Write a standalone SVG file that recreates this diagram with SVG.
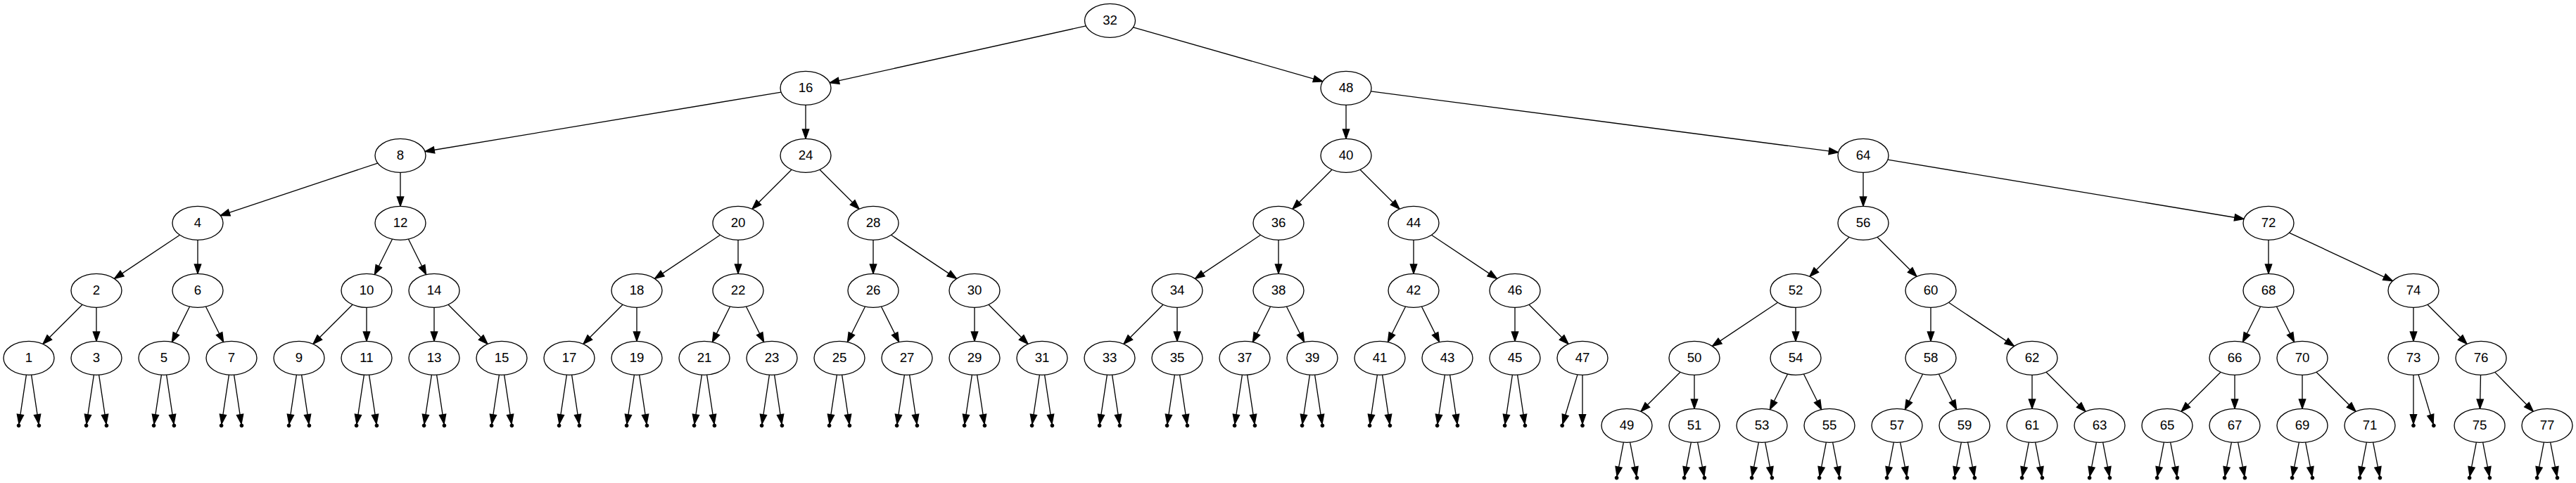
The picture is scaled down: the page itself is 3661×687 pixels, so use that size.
<svg xmlns="http://www.w3.org/2000/svg" xmlns:xlink="http://www.w3.org/1999/xlink" width="3661" height="687" viewBox="0 0 3661 687">
<style>
.node ellipse{fill:#fff;stroke:#000;stroke-width:1.33}
.node text{font-family:"Liberation Sans",Arial,sans-serif;font-size:18.67px;text-anchor:middle;fill:#000}
.e{stroke:#000;stroke-width:1.33;fill:none;marker-end:url(#arr)}
.pt{fill:#000;stroke:#000;stroke-width:1}
</style>
<defs>
<marker id="arr" markerUnits="userSpaceOnUse" viewBox="-2 -7 18 14" markerWidth="18" markerHeight="14" refX="13.33" refY="0" orient="auto" overflow="visible">
<path d="M0,-4.67 L13.33,0 L0,4.67 Z" fill="#000" stroke="#000" stroke-width="1.33"/>
</marker>
<g id="ne5"><line class="e" x1="-3.58" y1="23.88" x2="-14.04" y2="93.63"/><line class="e" x1="3.58" y1="23.88" x2="14.04" y2="93.63"/></g>
<g id="ne6"><line class="e" x1="-4.61" y1="23.8" x2="-13.94" y2="72.04"/><line class="e" x1="4.61" y1="23.8" x2="13.94" y2="72.04"/></g>
<g id="np5"><circle class="pt" cx="-14.4" cy="96" r="2.4"/><circle class="pt" cx="14.4" cy="96" r="2.4"/></g>
<g id="np6"><circle class="pt" cx="-14.4" cy="74.4" r="2.4"/><circle class="pt" cx="14.4" cy="74.4" r="2.4"/></g>
</defs>
<rect width="3661" height="687" fill="#fff"/>
<g id="edges">
<line class="e" x1="1543.34" y1="36.88" x2="1179.16" y2="117.72"/>
<line class="e" x1="1610.58" y1="38.77" x2="1879.92" y2="115.83"/>
<line class="e" x1="1110.07" y1="131.12" x2="603.93" y2="215.48"/>
<line class="e" x1="1145" y1="149.3" x2="1145" y2="197.3"/>
<line class="e" x1="1913" y1="149.3" x2="1913" y2="197.3"/>
<line class="e" x1="1948.33" y1="129.91" x2="2612.67" y2="216.69"/>
<line class="e" x1="536.8" y1="232.03" x2="313.2" y2="306.57"/>
<line class="e" x1="569" y1="245.3" x2="569" y2="293.3"/>
<line class="e" x1="1125.03" y1="241.27" x2="1068.97" y2="297.33"/>
<line class="e" x1="1164.97" y1="241.27" x2="1221.03" y2="297.33"/>
<line class="e" x1="1893.03" y1="241.27" x2="1836.97" y2="297.33"/>
<line class="e" x1="1932.97" y1="241.27" x2="1989.03" y2="297.33"/>
<line class="e" x1="2648" y1="245.3" x2="2648" y2="293.3"/>
<line class="e" x1="2682.93" y1="227.12" x2="3189.07" y2="311.48"/>
<line class="e" x1="255.54" y1="334.27" x2="162.46" y2="396.33"/>
<line class="e" x1="281" y1="341.3" x2="281" y2="389.3"/>
<line class="e" x1="557.62" y1="340.07" x2="532.38" y2="390.53"/>
<line class="e" x1="580.38" y1="340.07" x2="605.62" y2="390.53"/>
<line class="e" x1="1023.54" y1="334.27" x2="930.46" y2="396.33"/>
<line class="e" x1="1049" y1="341.3" x2="1049" y2="389.3"/>
<line class="e" x1="1241" y1="341.3" x2="1241" y2="389.3"/>
<line class="e" x1="1266.46" y1="334.27" x2="1359.54" y2="396.33"/>
<line class="e" x1="1791.54" y1="334.27" x2="1698.46" y2="396.33"/>
<line class="e" x1="1817" y1="341.3" x2="1817" y2="389.3"/>
<line class="e" x1="2009" y1="341.3" x2="2009" y2="389.3"/>
<line class="e" x1="2034.46" y1="334.27" x2="2127.54" y2="396.33"/>
<line class="e" x1="2628.03" y1="337.27" x2="2571.97" y2="393.33"/>
<line class="e" x1="2667.97" y1="337.27" x2="2724.03" y2="393.33"/>
<line class="e" x1="3224" y1="341.3" x2="3224" y2="389.3"/>
<line class="e" x1="3253.51" y1="331.05" x2="3400.49" y2="399.55"/>
<line class="e" x1="117.03" y1="433.27" x2="60.97" y2="489.33"/>
<line class="e" x1="137" y1="437.3" x2="137" y2="485.3"/>
<line class="e" x1="269.62" y1="436.07" x2="244.38" y2="486.53"/>
<line class="e" x1="292.38" y1="436.07" x2="317.62" y2="486.53"/>
<line class="e" x1="501.03" y1="433.27" x2="444.97" y2="489.33"/>
<line class="e" x1="521" y1="437.3" x2="521" y2="485.3"/>
<line class="e" x1="617" y1="437.3" x2="617" y2="485.3"/>
<line class="e" x1="636.97" y1="433.27" x2="693.03" y2="489.33"/>
<line class="e" x1="885.03" y1="433.27" x2="828.97" y2="489.33"/>
<line class="e" x1="905" y1="437.3" x2="905" y2="485.3"/>
<line class="e" x1="1037.62" y1="436.07" x2="1012.38" y2="486.53"/>
<line class="e" x1="1060.38" y1="436.07" x2="1085.62" y2="486.53"/>
<line class="e" x1="1229.62" y1="436.07" x2="1204.38" y2="486.53"/>
<line class="e" x1="1252.38" y1="436.07" x2="1277.62" y2="486.53"/>
<line class="e" x1="1385" y1="437.3" x2="1385" y2="485.3"/>
<line class="e" x1="1404.97" y1="433.27" x2="1461.03" y2="489.33"/>
<line class="e" x1="1653.03" y1="433.27" x2="1596.97" y2="489.33"/>
<line class="e" x1="1673" y1="437.3" x2="1673" y2="485.3"/>
<line class="e" x1="1805.62" y1="436.07" x2="1780.38" y2="486.53"/>
<line class="e" x1="1828.38" y1="436.07" x2="1853.62" y2="486.53"/>
<line class="e" x1="1997.62" y1="436.07" x2="1972.38" y2="486.53"/>
<line class="e" x1="2020.38" y1="436.07" x2="2045.62" y2="486.53"/>
<line class="e" x1="2153" y1="437.3" x2="2153" y2="485.3"/>
<line class="e" x1="2172.97" y1="433.27" x2="2229.03" y2="489.33"/>
<line class="e" x1="2526.54" y1="430.27" x2="2433.46" y2="492.33"/>
<line class="e" x1="2552" y1="437.3" x2="2552" y2="485.3"/>
<line class="e" x1="2744" y1="437.3" x2="2744" y2="485.3"/>
<line class="e" x1="2769.46" y1="430.27" x2="2862.54" y2="492.33"/>
<line class="e" x1="3212.62" y1="436.07" x2="3187.38" y2="486.53"/>
<line class="e" x1="3235.38" y1="436.07" x2="3260.62" y2="486.53"/>
<line class="e" x1="3430" y1="437.3" x2="3430" y2="485.3"/>
<line class="e" x1="3449.97" y1="433.27" x2="3506.03" y2="489.33"/>
<line class="e" x1="2388.03" y1="529.27" x2="2331.97" y2="585.33"/>
<line class="e" x1="2408" y1="533.3" x2="2408" y2="581.3"/>
<line class="e" x1="2540.62" y1="532.07" x2="2515.38" y2="582.53"/>
<line class="e" x1="2563.38" y1="532.07" x2="2588.62" y2="582.53"/>
<line class="e" x1="2732.62" y1="532.07" x2="2707.38" y2="582.53"/>
<line class="e" x1="2755.38" y1="532.07" x2="2780.62" y2="582.53"/>
<line class="e" x1="2888" y1="533.3" x2="2888" y2="581.3"/>
<line class="e" x1="2907.97" y1="529.27" x2="2964.03" y2="585.33"/>
<line class="e" x1="3156.03" y1="529.27" x2="3099.97" y2="585.33"/>
<line class="e" x1="3176" y1="533.3" x2="3176" y2="581.3"/>
<line class="e" x1="3272" y1="533.3" x2="3272" y2="581.3"/>
<line class="e" x1="3291.97" y1="529.27" x2="3348.03" y2="585.33"/>
<line class="e" x1="3525.5" y1="533.3" x2="3524.5" y2="581.3"/>
<line class="e" x1="3545.68" y1="529.4" x2="3600.32" y2="585.2"/>
<use href="#ne5" transform="translate(41,509.3)"/>
<use href="#ne5" transform="translate(137,509.3)"/>
<use href="#ne5" transform="translate(233,509.3)"/>
<use href="#ne5" transform="translate(329,509.3)"/>
<use href="#ne5" transform="translate(425,509.3)"/>
<use href="#ne5" transform="translate(521,509.3)"/>
<use href="#ne5" transform="translate(617,509.3)"/>
<use href="#ne5" transform="translate(713,509.3)"/>
<use href="#ne5" transform="translate(809,509.3)"/>
<use href="#ne5" transform="translate(905,509.3)"/>
<use href="#ne5" transform="translate(1001,509.3)"/>
<use href="#ne5" transform="translate(1097,509.3)"/>
<use href="#ne5" transform="translate(1193,509.3)"/>
<use href="#ne5" transform="translate(1289,509.3)"/>
<use href="#ne5" transform="translate(1385,509.3)"/>
<use href="#ne5" transform="translate(1481,509.3)"/>
<use href="#ne5" transform="translate(1577,509.3)"/>
<use href="#ne5" transform="translate(1673,509.3)"/>
<use href="#ne5" transform="translate(1769,509.3)"/>
<use href="#ne5" transform="translate(1865,509.3)"/>
<use href="#ne5" transform="translate(1961,509.3)"/>
<use href="#ne5" transform="translate(2057,509.3)"/>
<use href="#ne5" transform="translate(2153,509.3)"/>
<line class="e" x1="2241.94" y1="532.83" x2="2220.89" y2="603"/>
<line class="e" x1="2249" y1="533.3" x2="2249" y2="602.9"/>
<line class="e" x1="3430" y1="533.3" x2="3430" y2="602.9"/>
<line class="e" x1="3437.06" y1="532.83" x2="3458.11" y2="603"/>
<use href="#ne6" transform="translate(2312,605.3)"/>
<use href="#ne6" transform="translate(2408,605.3)"/>
<use href="#ne6" transform="translate(2504,605.3)"/>
<use href="#ne6" transform="translate(2600,605.3)"/>
<use href="#ne6" transform="translate(2696,605.3)"/>
<use href="#ne6" transform="translate(2792,605.3)"/>
<use href="#ne6" transform="translate(2888,605.3)"/>
<use href="#ne6" transform="translate(2984,605.3)"/>
<use href="#ne6" transform="translate(3080,605.3)"/>
<use href="#ne6" transform="translate(3176,605.3)"/>
<use href="#ne6" transform="translate(3272,605.3)"/>
<use href="#ne6" transform="translate(3368,605.3)"/>
<use href="#ne6" transform="translate(3524,605.3)"/>
<use href="#ne6" transform="translate(3620,605.3)"/>
</g>
<g id="nulls">
<use href="#np5" transform="translate(41,509.3)"/>
<use href="#np5" transform="translate(137,509.3)"/>
<use href="#np5" transform="translate(233,509.3)"/>
<use href="#np5" transform="translate(329,509.3)"/>
<use href="#np5" transform="translate(425,509.3)"/>
<use href="#np5" transform="translate(521,509.3)"/>
<use href="#np5" transform="translate(617,509.3)"/>
<use href="#np5" transform="translate(713,509.3)"/>
<use href="#np5" transform="translate(809,509.3)"/>
<use href="#np5" transform="translate(905,509.3)"/>
<use href="#np5" transform="translate(1001,509.3)"/>
<use href="#np5" transform="translate(1097,509.3)"/>
<use href="#np5" transform="translate(1193,509.3)"/>
<use href="#np5" transform="translate(1289,509.3)"/>
<use href="#np5" transform="translate(1385,509.3)"/>
<use href="#np5" transform="translate(1481,509.3)"/>
<use href="#np5" transform="translate(1577,509.3)"/>
<use href="#np5" transform="translate(1673,509.3)"/>
<use href="#np5" transform="translate(1769,509.3)"/>
<use href="#np5" transform="translate(1865,509.3)"/>
<use href="#np5" transform="translate(1961,509.3)"/>
<use href="#np5" transform="translate(2057,509.3)"/>
<use href="#np5" transform="translate(2153,509.3)"/>
<circle class="pt" cx="2220.2" cy="605.3" r="2.4"/>
<circle class="pt" cx="2249" cy="605.3" r="2.4"/>
<circle class="pt" cx="3430" cy="605.3" r="2.4"/>
<circle class="pt" cx="3458.8" cy="605.3" r="2.4"/>
<use href="#np6" transform="translate(2312,605.3)"/>
<use href="#np6" transform="translate(2408,605.3)"/>
<use href="#np6" transform="translate(2504,605.3)"/>
<use href="#np6" transform="translate(2600,605.3)"/>
<use href="#np6" transform="translate(2696,605.3)"/>
<use href="#np6" transform="translate(2792,605.3)"/>
<use href="#np6" transform="translate(2888,605.3)"/>
<use href="#np6" transform="translate(2984,605.3)"/>
<use href="#np6" transform="translate(3080,605.3)"/>
<use href="#np6" transform="translate(3176,605.3)"/>
<use href="#np6" transform="translate(3272,605.3)"/>
<use href="#np6" transform="translate(3368,605.3)"/>
<use href="#np6" transform="translate(3524,605.3)"/>
<use href="#np6" transform="translate(3620,605.3)"/>
</g>
<g id="nodes">
<g id="n32" class="node" transform="translate(1577.5,29.3)"><ellipse rx="36" ry="24"/><text y="5.2">32</text></g>
<g id="n16" class="node" transform="translate(1145,125.3)"><ellipse rx="36" ry="24"/><text y="5.2">16</text></g>
<g id="n48" class="node" transform="translate(1913,125.3)"><ellipse rx="36" ry="24"/><text y="5.2">48</text></g>
<g id="n8" class="node" transform="translate(569,221.3)"><ellipse rx="36" ry="24"/><text y="5.2">8</text></g>
<g id="n24" class="node" transform="translate(1145,221.3)"><ellipse rx="36" ry="24"/><text y="5.2">24</text></g>
<g id="n40" class="node" transform="translate(1913,221.3)"><ellipse rx="36" ry="24"/><text y="5.2">40</text></g>
<g id="n64" class="node" transform="translate(2648,221.3)"><ellipse rx="36" ry="24"/><text y="5.2">64</text></g>
<g id="n4" class="node" transform="translate(281,317.3)"><ellipse rx="36" ry="24"/><text y="5.2">4</text></g>
<g id="n12" class="node" transform="translate(569,317.3)"><ellipse rx="36" ry="24"/><text y="5.2">12</text></g>
<g id="n20" class="node" transform="translate(1049,317.3)"><ellipse rx="36" ry="24"/><text y="5.2">20</text></g>
<g id="n28" class="node" transform="translate(1241,317.3)"><ellipse rx="36" ry="24"/><text y="5.2">28</text></g>
<g id="n36" class="node" transform="translate(1817,317.3)"><ellipse rx="36" ry="24"/><text y="5.2">36</text></g>
<g id="n44" class="node" transform="translate(2009,317.3)"><ellipse rx="36" ry="24"/><text y="5.2">44</text></g>
<g id="n56" class="node" transform="translate(2648,317.3)"><ellipse rx="36" ry="24"/><text y="5.2">56</text></g>
<g id="n72" class="node" transform="translate(3224,317.3)"><ellipse rx="36" ry="24"/><text y="5.2">72</text></g>
<g id="n2" class="node" transform="translate(137,413.3)"><ellipse rx="36" ry="24"/><text y="5.2">2</text></g>
<g id="n6" class="node" transform="translate(281,413.3)"><ellipse rx="36" ry="24"/><text y="5.2">6</text></g>
<g id="n10" class="node" transform="translate(521,413.3)"><ellipse rx="36" ry="24"/><text y="5.2">10</text></g>
<g id="n14" class="node" transform="translate(617,413.3)"><ellipse rx="36" ry="24"/><text y="5.2">14</text></g>
<g id="n18" class="node" transform="translate(905,413.3)"><ellipse rx="36" ry="24"/><text y="5.2">18</text></g>
<g id="n22" class="node" transform="translate(1049,413.3)"><ellipse rx="36" ry="24"/><text y="5.2">22</text></g>
<g id="n26" class="node" transform="translate(1241,413.3)"><ellipse rx="36" ry="24"/><text y="5.2">26</text></g>
<g id="n30" class="node" transform="translate(1385,413.3)"><ellipse rx="36" ry="24"/><text y="5.2">30</text></g>
<g id="n34" class="node" transform="translate(1673,413.3)"><ellipse rx="36" ry="24"/><text y="5.2">34</text></g>
<g id="n38" class="node" transform="translate(1817,413.3)"><ellipse rx="36" ry="24"/><text y="5.2">38</text></g>
<g id="n42" class="node" transform="translate(2009,413.3)"><ellipse rx="36" ry="24"/><text y="5.2">42</text></g>
<g id="n46" class="node" transform="translate(2153,413.3)"><ellipse rx="36" ry="24"/><text y="5.2">46</text></g>
<g id="n52" class="node" transform="translate(2552,413.3)"><ellipse rx="36" ry="24"/><text y="5.2">52</text></g>
<g id="n60" class="node" transform="translate(2744,413.3)"><ellipse rx="36" ry="24"/><text y="5.2">60</text></g>
<g id="n68" class="node" transform="translate(3224,413.3)"><ellipse rx="36" ry="24"/><text y="5.2">68</text></g>
<g id="n74" class="node" transform="translate(3430,413.3)"><ellipse rx="36" ry="24"/><text y="5.2">74</text></g>
<g id="n1" class="node" transform="translate(41,509.3)"><ellipse rx="36" ry="24"/><text y="5.2">1</text></g>
<g id="n3" class="node" transform="translate(137,509.3)"><ellipse rx="36" ry="24"/><text y="5.2">3</text></g>
<g id="n5" class="node" transform="translate(233,509.3)"><ellipse rx="36" ry="24"/><text y="5.2">5</text></g>
<g id="n7" class="node" transform="translate(329,509.3)"><ellipse rx="36" ry="24"/><text y="5.2">7</text></g>
<g id="n9" class="node" transform="translate(425,509.3)"><ellipse rx="36" ry="24"/><text y="5.2">9</text></g>
<g id="n11" class="node" transform="translate(521,509.3)"><ellipse rx="36" ry="24"/><text y="5.2">11</text></g>
<g id="n13" class="node" transform="translate(617,509.3)"><ellipse rx="36" ry="24"/><text y="5.2">13</text></g>
<g id="n15" class="node" transform="translate(713,509.3)"><ellipse rx="36" ry="24"/><text y="5.2">15</text></g>
<g id="n17" class="node" transform="translate(809,509.3)"><ellipse rx="36" ry="24"/><text y="5.2">17</text></g>
<g id="n19" class="node" transform="translate(905,509.3)"><ellipse rx="36" ry="24"/><text y="5.2">19</text></g>
<g id="n21" class="node" transform="translate(1001,509.3)"><ellipse rx="36" ry="24"/><text y="5.2">21</text></g>
<g id="n23" class="node" transform="translate(1097,509.3)"><ellipse rx="36" ry="24"/><text y="5.2">23</text></g>
<g id="n25" class="node" transform="translate(1193,509.3)"><ellipse rx="36" ry="24"/><text y="5.2">25</text></g>
<g id="n27" class="node" transform="translate(1289,509.3)"><ellipse rx="36" ry="24"/><text y="5.2">27</text></g>
<g id="n29" class="node" transform="translate(1385,509.3)"><ellipse rx="36" ry="24"/><text y="5.2">29</text></g>
<g id="n31" class="node" transform="translate(1481,509.3)"><ellipse rx="36" ry="24"/><text y="5.2">31</text></g>
<g id="n33" class="node" transform="translate(1577,509.3)"><ellipse rx="36" ry="24"/><text y="5.2">33</text></g>
<g id="n35" class="node" transform="translate(1673,509.3)"><ellipse rx="36" ry="24"/><text y="5.2">35</text></g>
<g id="n37" class="node" transform="translate(1769,509.3)"><ellipse rx="36" ry="24"/><text y="5.2">37</text></g>
<g id="n39" class="node" transform="translate(1865,509.3)"><ellipse rx="36" ry="24"/><text y="5.2">39</text></g>
<g id="n41" class="node" transform="translate(1961,509.3)"><ellipse rx="36" ry="24"/><text y="5.2">41</text></g>
<g id="n43" class="node" transform="translate(2057,509.3)"><ellipse rx="36" ry="24"/><text y="5.2">43</text></g>
<g id="n45" class="node" transform="translate(2153,509.3)"><ellipse rx="36" ry="24"/><text y="5.2">45</text></g>
<g id="n47" class="node" transform="translate(2249,509.3)"><ellipse rx="36" ry="24"/><text y="5.2">47</text></g>
<g id="n50" class="node" transform="translate(2408,509.3)"><ellipse rx="36" ry="24"/><text y="5.2">50</text></g>
<g id="n54" class="node" transform="translate(2552,509.3)"><ellipse rx="36" ry="24"/><text y="5.2">54</text></g>
<g id="n58" class="node" transform="translate(2744,509.3)"><ellipse rx="36" ry="24"/><text y="5.2">58</text></g>
<g id="n62" class="node" transform="translate(2888,509.3)"><ellipse rx="36" ry="24"/><text y="5.2">62</text></g>
<g id="n66" class="node" transform="translate(3176,509.3)"><ellipse rx="36" ry="24"/><text y="5.2">66</text></g>
<g id="n70" class="node" transform="translate(3272,509.3)"><ellipse rx="36" ry="24"/><text y="5.2">70</text></g>
<g id="n73" class="node" transform="translate(3430,509.3)"><ellipse rx="36" ry="24"/><text y="5.2">73</text></g>
<g id="n76" class="node" transform="translate(3526,509.3)"><ellipse rx="36" ry="24"/><text y="5.2">76</text></g>
<g id="n49" class="node" transform="translate(2312,605.3)"><ellipse rx="36" ry="24"/><text y="5.2">49</text></g>
<g id="n51" class="node" transform="translate(2408,605.3)"><ellipse rx="36" ry="24"/><text y="5.2">51</text></g>
<g id="n53" class="node" transform="translate(2504,605.3)"><ellipse rx="36" ry="24"/><text y="5.2">53</text></g>
<g id="n55" class="node" transform="translate(2600,605.3)"><ellipse rx="36" ry="24"/><text y="5.2">55</text></g>
<g id="n57" class="node" transform="translate(2696,605.3)"><ellipse rx="36" ry="24"/><text y="5.2">57</text></g>
<g id="n59" class="node" transform="translate(2792,605.3)"><ellipse rx="36" ry="24"/><text y="5.2">59</text></g>
<g id="n61" class="node" transform="translate(2888,605.3)"><ellipse rx="36" ry="24"/><text y="5.2">61</text></g>
<g id="n63" class="node" transform="translate(2984,605.3)"><ellipse rx="36" ry="24"/><text y="5.2">63</text></g>
<g id="n65" class="node" transform="translate(3080,605.3)"><ellipse rx="36" ry="24"/><text y="5.2">65</text></g>
<g id="n67" class="node" transform="translate(3176,605.3)"><ellipse rx="36" ry="24"/><text y="5.2">67</text></g>
<g id="n69" class="node" transform="translate(3272,605.3)"><ellipse rx="36" ry="24"/><text y="5.2">69</text></g>
<g id="n71" class="node" transform="translate(3368,605.3)"><ellipse rx="36" ry="24"/><text y="5.2">71</text></g>
<g id="n75" class="node" transform="translate(3524,605.3)"><ellipse rx="36" ry="24"/><text y="5.2">75</text></g>
<g id="n77" class="node" transform="translate(3620,605.3)"><ellipse rx="36" ry="24"/><text y="5.2">77</text></g>
</g>
</svg>
